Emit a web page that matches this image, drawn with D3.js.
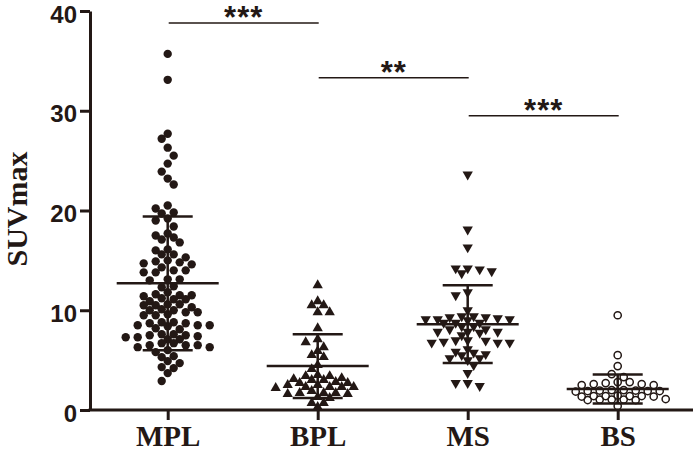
<!DOCTYPE html>
<html lang="en">
<head>
<meta charset="UTF-8">
<script src="https://cdnjs.cloudflare.com/ajax/libs/d3/7.8.5/d3.min.js"></script>
<style>
    body { margin: 0; background: #fff; }
    svg { display: block; }
    .yaxis text {
        font-family: "Liberation Sans", Arial, sans-serif;
        font-weight: bold;
        font-size: 24px;
        fill: #231815;
    }
    .xaxis text {
        font-family: "Liberation Serif", "Times New Roman", serif;
        font-weight: bold;
        font-size: 29px;
        fill: #231815;
    }
    .axis path, .axis line {
        stroke: #231815;
        stroke-width: 3px;
    }
    .ylabel {
        font-family: "Liberation Serif", "Times New Roman", serif;
        font-weight: bold;
        font-size: 30px;
        fill: #231815;
    }
    .stars {
        font-family: "Liberation Sans", Arial, sans-serif;
        font-weight: bold;
        font-size: 31px;
        letter-spacing: 1px;
        fill: #231815;
        text-anchor: middle;
    }
</style>
</head>
<body>
<svg id="chart" width="694" height="452"></svg>
<script>
    const groups = ["MPL", "BPL", "MS", "BS"];

    const mplValues = [35.7, 33.1, 27.7, 27.2, 26.3, 25.5, 24.7, 23.9, 23.2, 22.6,
        20.5, 20.2, 19.8, 19.7, 19.2, 19.0, 18.4, 17.7, 17.5, 17.3,
        17.1, 16.8, 16.1, 16.0, 15.6, 15.6, 15.3, 15.0, 14.9, 14.8,
        14.7, 14.6, 14.3, 14.0, 14.0, 13.8, 13.8, 13.1, 13.1, 13.0,
        12.4, 12.3, 11.8, 11.6, 11.5, 11.5, 11.4, 11.2, 11.1, 11.1,
        10.9, 10.6, 10.6, 10.5, 10.5, 10.3, 10.1, 10.0, 10.0, 9.8,
        9.8, 9.6, 9.5, 9.5, 8.8, 8.8, 8.7, 8.7, 8.5, 8.5,
        8.5, 8.4, 8.2, 8.1, 7.6, 7.6, 7.5, 7.5, 7.4, 7.3,
        7.3, 7.1, 7.1, 6.7, 6.7, 6.5, 6.5, 6.5, 6.3, 6.3,
        6.0, 5.8, 5.4, 5.3, 4.9, 4.7, 4.3, 4.2, 3.7, 2.9];

    const bplValues = [12.5, 10.9, 10.5, 10.5, 9.8, 9.8, 8.2, 7.1, 6.8, 6.3,
        5.9, 5.5, 5.3, 4.5, 4.1, 3.5, 3.4, 3.4, 3.2, 3.1,
        3.0, 3.0, 2.8, 2.7, 2.7, 2.5, 2.5, 2.3, 2.3, 2.3,
        2.3, 2.2, 1.9, 1.7, 1.7, 1.7, 1.6, 1.6, 1.3, 1.2,
        0.7, 0.7, 0.3];

    const msValues = [23.6, 18.1, 16.3, 14.2, 14.2, 14.1, 13.9, 13.7, 11.8, 11.5,
        10.0, 9.4, 9.4, 9.3, 9.3, 9.2, 9.1, 9.1, 9.1, 9.0,
        8.75, 8.75, 8.75, 8.4, 8.4, 8.1, 8.1, 7.85, 7.85, 7.85,
        7.75, 7.5, 7.0, 7.0, 6.95, 6.85, 6.75, 6.75, 6.75, 6.1,
        5.85, 5.75, 5.6, 5.5, 5.2, 5.2, 5.0, 4.5, 3.7, 2.7,
        2.7, 2.4];

    const bsValues = [9.5, 5.5, 4.4, 3.6, 3.3, 2.8, 2.8, 2.7, 2.6, 2.6,
        2.5, 2.5, 2.0, 2.0, 1.95, 1.95, 1.9, 1.9, 1.9, 1.85,
        1.45, 1.4, 1.4, 1.4, 1.4, 1.35, 1.35, 1.1, 1.05, 1.05,
        1.05, 1.0, 1.0, 0.4];

    const groupMeans = [12.7, 4.4, 8.6, 2.1];
    const groupSDs = [6.7, 3.2, 3.9, 1.45];

    const yTicks = [0, 10, 20, 30, 40];

    const sigPairs = [["MPL", "BPL"], ["BPL", "MS"], ["MS", "BS"]];
    const sigLevels = [38.8, 33.3, 29.5];
    const sigLabels = ["***", "**", "***"];

    const ink = "#231815";
    const svg = d3.select("#chart");

    const y = d3.scaleLinear().domain([0, 40]).range([410, 11]);
    const x = d3.scalePoint().domain(groups).range([167.7, 617.7]);

    // prism-like scatter on a 6px grid, half steps may overlap a little
    function swarm(values, cx) {
        const sorted = values.slice().sort((a, b) => b - a);
        const placed = [];
        let toggle = -1;
        sorted.forEach(v => {
            const py = y(v);
            const free = dx => placed.every(q => {
                const ax = Math.abs(dx - q.dx), ay = Math.abs(py - q.py);
                if (ax >= 12) return true;
                if (ax >= 6) return ay >= 3;
                return ay >= 8;
            });
            if (free(0)) {
                placed.push({v: v, dx: 0, py: py});
                return;
            }
            const near = placed.filter(q => Math.abs(q.py - py) < 10);
            const left = near.filter(q => q.dx < 0).length;
            const right = near.filter(q => q.dx > 0).length;
            const order = left < right ? [-1, 1] : left > right ? [1, -1] : [toggle, -toggle];
            for (let k = 1; k < 40; k++) {
                const s = order.find(sg => free(sg * k * 6));
                if (s !== undefined) {
                    placed.push({v: v, dx: s * k * 6, py: py});
                    if (left === right) toggle = -toggle;
                    break;
                }
            }
        });
        return placed.map(p => ({value: p.v, px: cx + p.dx, py: p.py}));
    }

    // axes
    const yAxis = svg.append("g")
        .attr("class", "axis yaxis")
        .attr("transform", "translate(90,0)")
        .call(d3.axisLeft(y).tickValues(yTicks).tickSize(10).tickSizeOuter(0).tickPadding(3));
    yAxis.selectAll(".tick text").attr("dy", "0.46em");

    const xAxis = svg.append("g")
        .attr("class", "axis xaxis")
        .attr("transform", "translate(0,410)")
        .call(d3.axisBottom(x).tickSize(10).tickSizeOuter(0).tickPadding(5));
    xAxis.select(".domain").attr("d", "M88.5,0H693");

    svg.append("text")
        .attr("class", "ylabel")
        .attr("transform", "translate(26.5,209) rotate(-90)")
        .attr("text-anchor", "middle")
        .text("SUVmax");

    // points
    const tri = d3.symbol().type(d3.symbolTriangle).size(46);

    svg.append("g").selectAll("circle")
        .data(swarm(mplValues, x("MPL")))
        .join("circle")
        .attr("cx", d => d.px).attr("cy", d => d.py)
        .attr("r", 4.2).attr("fill", ink);

    svg.append("g").selectAll("path")
        .data(swarm(bplValues, x("BPL")))
        .join("path")
        .attr("d", tri)
        .attr("transform", d => `translate(${d.px},${d.py})`)
        .attr("fill", ink);

    svg.append("g").selectAll("path")
        .data(swarm(msValues, x("MS")))
        .join("path")
        .attr("d", tri)
        .attr("transform", d => `translate(${d.px},${d.py}) rotate(180)`)
        .attr("fill", ink);

    svg.append("g").selectAll("circle")
        .data(swarm(bsValues, x("BS")))
        .join("circle")
        .attr("cx", d => d.px).attr("cy", d => d.py)
        .attr("r", 3.6).attr("fill", "none")
        .attr("stroke", ink).attr("stroke-width", 1.5);

    // mean and SD bars
    const bars = svg.append("g").attr("stroke", ink).attr("stroke-width", 2.5);
    groups.forEach((g, i) => {
        const cx = x(g), m = groupMeans[i], sd = groupSDs[i];
        bars.append("line").attr("x1", cx - 51).attr("x2", cx + 51)
            .attr("y1", y(m)).attr("y2", y(m));
        bars.append("line").attr("x1", cx).attr("x2", cx)
            .attr("y1", y(m + sd)).attr("y2", y(m - sd));
        [m + sd, m - sd].forEach(v => {
            bars.append("line").attr("x1", cx - 25).attr("x2", cx + 25)
                .attr("y1", y(v)).attr("y2", y(v));
        });
    });

    // significance
    sigPairs.forEach((pair, i) => {
        const x1 = x(pair[0]) + 1, x2 = x(pair[1]) + 1;
        const ly = y(sigLevels[i]);
        svg.append("line")
            .attr("x1", x1).attr("x2", x2).attr("y1", ly).attr("y2", ly)
            .attr("stroke", ink).attr("stroke-width", 1.5);
        svg.append("text")
            .attr("class", "stars")
            .attr("x", (x1 + x2) / 2)
            .attr("y", ly + 5.2)
            .text(sigLabels[i]);
    });
</script>
</body>
</html>
